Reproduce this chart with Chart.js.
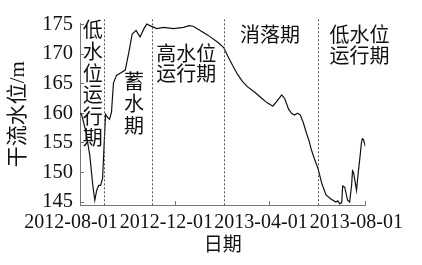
<!doctype html>
<html lang="zh">
<head>
<meta charset="utf-8">
<title>干流水位</title>
<script src="https://cdn.jsdelivr.net/npm/chart.js"></script>
<style>
  html,body{margin:0;padding:0;background:#fff}
</style>
</head>
<body>
<canvas id="levelChart" width="422" height="265"></canvas>
<script>
// x values are days counted from 2012-08-01
const tickDays = [0, 122, 243, 365];
const tickLabels = ['2012-08-01', '2012-12-01', '2013-04-01', '2013-08-01'];
const levelTicks = [145, 150, 155, 160, 165, 170, 175];

const dayOffsets = [
  0, 2, 7.6, 12.6, 16.4, 18.9, 21.4, 23.9, 26.4, 28.9, 30.2, 31.5, 32.7, 35.2, 37.8,
  40.3, 42.8, 46.6, 52.9, 57.9, 62.9, 66.7, 71.7, 76.8, 81.8, 85.6, 89.4, 98.2, 107,
  119.6, 132.2, 139.7, 144.7, 151, 163.6, 176.2, 183.8, 188.8, 195.1, 201.4, 207.7,
  214, 224, 232.8, 239.1, 246.7, 251.7, 258, 261.8, 266.8, 270.6, 274.4, 278.2, 281.9,
  285.7, 289.5, 293.3, 295.8, 299.6, 304.6, 309.6, 314.7, 321, 327.2, 329.8, 332.3,
  334.8, 336, 338.6, 342.3, 344.9, 347.4, 348.6, 349.9, 351.2, 353.7, 356.2, 358.7,
  359.9, 361.2, 362.5, 365
];
const waterLevel = [
  160.0, 159.8, 156.9, 152.8, 147.8, 145.3, 147.0, 147.8, 147.8, 149.0, 152.8, 156.5, 159.8, 159.3, 159.0,
  160.2, 165.1, 166.4, 166.9, 167.3, 170.6, 173.4, 174.0, 172.9, 174.3, 175.1, 174.8, 174.3, 174.5,
  174.3, 174.5, 174.8, 174.7, 174.2, 173.2, 172.0, 171.1, 169.7, 168.1, 166.6, 165.4,
  164.5, 163.5, 162.5, 161.8, 161.2, 162.0, 163.1, 162.5, 160.7, 160.0, 159.7, 160.0, 159.7,
  158.4, 156.7, 155.2, 153.9, 152.4, 150.6, 148.0, 146.2, 145.5, 145.0, 145.2, 144.7,
  144.9, 147.7, 147.5, 145.3, 145.0, 147.8, 150.3, 150.0, 149.0, 147.0, 150.3, 153.3,
  154.9, 155.7, 155.6, 154.4
];

// period boundaries: 2012-09-01, 2012-11-01, 2013-02-01, 2013-06-01
const phaseBounds = [31, 92, 184, 304];
const phaseNames = ['低水位运行期', '蓄水期', '高水位运行期', '消落期', '低水位运行期'];

// where each period name sits (first glyph centre, in data units) and how it wraps
const phaseLayout = [
  {x: 16.4, y: 174.1, perLine: 1, step: 21.6},
  {x: 69.2, y: 165.4, perLine: 1, step: 22},
  {x: 136, y: 170.1, perLine: 3, step: 20},
  {x: 243, y: 173.4, perLine: 3, step: 20},
  {x: 357.5, y: 173.4, perLine: 3, step: 21}
];

const SERIF = '"Liberation Serif", "Times New Roman", "Noto Sans CJK SC", serif';
const CJK = '"Noto Sans CJK SC", sans-serif';

const phasePlugin = {
  id: 'phases',
  afterDatasetsDraw(chart) {
    const {ctx, chartArea, scales: {x, y}} = chart;
    ctx.save();
    ctx.strokeStyle = '#555';
    ctx.lineWidth = 1;
    ctx.setLineDash([2, 2]);
    phaseBounds.forEach(d => {
      const px = Math.round(x.getPixelForValue(d)) + 0.5;
      ctx.beginPath();
      ctx.moveTo(px, chartArea.top - 4);
      ctx.lineTo(px, chartArea.bottom);
      ctx.stroke();
    });
    ctx.setLineDash([]);
    ctx.fillStyle = '#111';
    ctx.font = '20px ' + CJK;
    ctx.textAlign = 'center';
    ctx.textBaseline = 'middle';
    phaseNames.forEach((name, i) => {
      const p = phaseLayout[i];
      const cx = x.getPixelForValue(p.x);
      const cy = y.getPixelForValue(p.y);
      for (let k = 0; k * p.perLine < name.length; k++) {
        ctx.fillText(name.slice(k * p.perLine, (k + 1) * p.perLine), cx, cy + k * p.step);
      }
    });
    ctx.restore();
  }
};

new Chart(document.getElementById('levelChart'), {
  type: 'line',
  data: {
    datasets: [{
      data: dayOffsets.map((d, i) => ({x: d, y: waterLevel[i]})),
      borderColor: '#111',
      borderWidth: 1.2,
      pointRadius: 0,
      tension: 0,
      fill: false
    }]
  },
  options: {
    responsive: false,
    animation: false,
    layout: {padding: {top: 18.5, right: 52, bottom: 0, left: 0}},
    plugins: {legend: {display: false}, tooltip: {enabled: false}},
    scales: {
      x: {
        type: 'linear',
        min: 0,
        max: 365,
        afterBuildTicks: s => { s.ticks = tickDays.map(v => ({value: v})); },
        afterFit: s => { s.height = 60; },
        ticks: {
          callback: v => tickLabels[tickDays.indexOf(v)],
          autoSkip: false,
          maxRotation: 0,
          padding: 10,
          labelOffset: -9,
          color: '#111',
          font: {family: SERIF, size: 20}
        },
        grid: {drawOnChartArea: false, tickLength: -4, color: '#777'},
        border: {color: '#777'},
        title: {display: true, text: '日期', color: '#111', font: {family: CJK, size: 19}, padding: {top: 0, bottom: 10}}
      },
      y: {
        min: 144.5,
        max: 175.2,
        afterBuildTicks: s => { s.ticks = levelTicks.map(v => ({value: v})); },
        afterFit: s => { s.width = 80; },
        ticks: {
          padding: 11,
          color: '#111',
          font: {family: SERIF, size: 20.5}
        },
        grid: {drawOnChartArea: false, tickLength: -4, color: '#777'},
        border: {color: '#777'},
        title: {display: true, text: '干流水位/m', color: '#111', font: {family: SERIF, size: 21}, padding: {top: 6, bottom: 0}}
      }
    }
  },
  plugins: [phasePlugin]
});
</script>
</body>
</html>
